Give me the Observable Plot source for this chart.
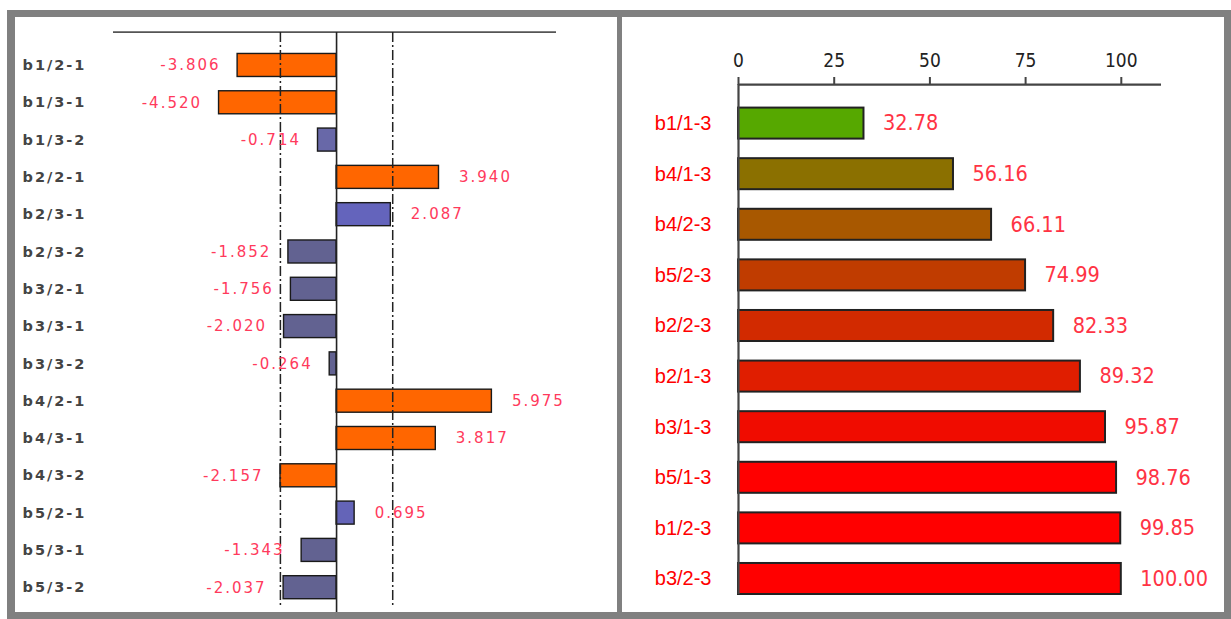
<!DOCTYPE html>
<html>
<head>
<meta charset="utf-8">
<script src="https://cdn.jsdelivr.net/npm/d3@7"></script>
<script src="https://cdn.jsdelivr.net/npm/@observablehq/plot@0.6"></script>
<style>
  body { margin: 0; background: #ffffff; }
  #frame { position: absolute; left: 7px; top: 10px; width: 1224px; height: 609px; background: #808080; }
  .panel { position: absolute; top: 7px; width: 602px; height: 595px; background: #ffffff; overflow: hidden; }
  #left { left: 8px; }
  #right { left: 615px; }
  #left text { letter-spacing: 2px; }
</style>
</head>
<body>
<div id="frame">
  <div id="left" class="panel"></div>
  <div id="right" class="panel"></div>
</div>
<script>
// ---- Left panel: effects ----
const effectNames = ["b1/2-1","b1/3-1","b1/3-2","b2/2-1","b2/3-1","b2/3-2","b3/2-1","b3/3-1","b3/3-2","b4/2-1","b4/3-1","b4/3-2","b5/2-1","b5/3-1","b5/3-2"];
const effectValues = [-3.806,-4.520,-0.714,3.940,2.087,-1.852,-1.756,-2.020,-0.264,5.975,3.817,-2.157,0.695,-1.343,-2.037];
const effectColors = ["#ff6600","#ff6600","#6868a8","#ff6600","#6464bc","#626291","#626291","#626291","#626291","#ff6600","#ff6600","#ff6600","#6464b8","#626291","#626291"];
const criticalLines = [-2.16, 2.16];

// ---- Right panel: percentages ----
const pctNames = ["b1/1-3","b4/1-3","b4/2-3","b5/2-3","b2/2-3","b2/1-3","b3/1-3","b5/1-3","b1/2-3","b3/2-3"];
const pctValues = [32.78,56.16,66.11,74.99,82.33,89.32,95.87,98.76,99.85,100.00];
const pctColors = ["#56a800","#8b7000","#a85800","#c03c00","#d22a00","#e01e00","#f00c00","#ff0000","#ff0000","#ff0000"];
const pctTicks = [0,25,50,75,100];

const effects = effectNames.map((n,i) => ({name:n, v:effectValues[i], color:effectColors[i]}));
const pcts = pctNames.map((n,i) => ({name:n, v:pctValues[i], color:pctColors[i]}));

const condensed = "'DejaVu Sans Condensed', Roboto, 'DejaVu Sans', sans-serif";

const left = Plot.plot({
  width: 602, height: 595,
  marginLeft: 98, marginRight: 61, marginTop: 15, marginBottom: 6.4,
  x: {domain: [-8.58, 8.46], axis: null},
  y: {domain: effectNames, axis: null, round: false, paddingInner: 0.383, paddingOuter: 0.38, align: 0.757},
  color: {type: "identity"},
  marks: [
    Plot.ruleY([effectNames[0]], {y: d => d, dy: -33.3, stroke: "#555", strokeWidth: 1.6}),
    Plot.barX(effects, {x: "v", y: "name", fill: "color", stroke: "#1a1a1a", strokeWidth: 1.4}),
    Plot.ruleX(criticalLines, {stroke: "#222", strokeWidth: 1.5, strokeDasharray: "10,3,2,3"}),
    Plot.ruleX([0], {stroke: "#222", strokeWidth: 1.6, insetBottom: -7}),
    Plot.text(effects.filter(d => d.v < 0), {x: "v", y: "name", text: d => d.v.toFixed(3), textAnchor: "end", dx: -17,
      fill: "#ff3a5c", fontSize: 15, fontFamily: "DejaVu Sans"}),
    Plot.text(effects.filter(d => d.v >= 0), {x: "v", y: "name", text: d => d.v.toFixed(3), textAnchor: "start", dx: 20,
      fill: "#ff3a5c", fontSize: 15, fontFamily: "DejaVu Sans"}),
    Plot.text(effectNames, {y: d => d, text: d => d, frameAnchor: "left", textAnchor: "start", dx: -91,
      fill: "#444", fontSize: 14.5, fontWeight: "bold", fontFamily: "DejaVu Sans"})
  ]
});
document.getElementById("left").appendChild(left);

const right = Plot.plot({
  width: 602, height: 595,
  marginLeft: 116, marginRight: 63, marginTop: 67, marginBottom: 18,
  x: {domain: [0, 110.5], axis: null},
  y: {domain: pctNames, axis: null, round: false, paddingInner: 0.387, paddingOuter: 0.233, align: 1},
  color: {type: "identity"},
  marks: [
    Plot.barX(pcts, {x: "v", y: "name", fill: "color", stroke: "#222", strokeWidth: 2}),
    Plot.ruleY([pctNames[0]], {y: d => d, dy: -39, stroke: "#444", strokeWidth: 2.2}),
    Plot.ruleX([0], {stroke: "#444", strokeWidth: 2.2}),
    Plot.axisX({anchor: "top", ticks: pctTicks, tickSize: 8, tickPadding: 10, strokeWidth: 2, stroke: "#444",
      fill: "#222", fontSize: 19, fontFamily: condensed, label: null}),
    Plot.text(pcts, {x: "v", y: "name", text: d => d.v.toFixed(2), textAnchor: "start", dx: 19,
      fill: "#ff3344", fontSize: 21.5, fontFamily: condensed}),
    Plot.text(pctNames, {y: d => d, text: d => d, frameAnchor: "left", textAnchor: "end", dx: -27,
      fill: "#ff0000", fontSize: 20, fontFamily: "Liberation Sans"})
  ]
});
document.getElementById("right").appendChild(right);
</script>
</body>
</html>
